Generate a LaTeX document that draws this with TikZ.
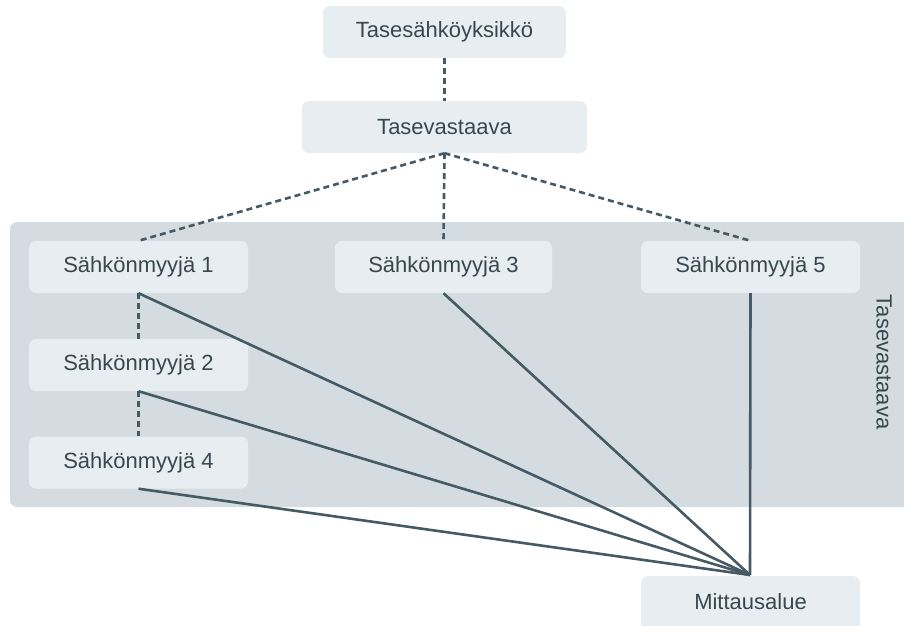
\documentclass[tikz,border=0pt]{standalone}
\usepackage{fontspec}
\setmainfont{Liberation Sans}
\definecolor{boxfill}{HTML}{E8EDF1}
\definecolor{groupfill}{HTML}{D5DCE1}
\definecolor{linecol}{HTML}{455A64}
\definecolor{textcol}{HTML}{37474F}
\begin{document}
\begin{tikzpicture}[x=1pt,y=-1pt,
  ent/.style={fill=boxfill,rounded corners=7pt,inner sep=0pt,text=textcol,
    font=\fontsize{22}{26}\selectfont},
  dashlink/.style={draw=linecol,line width=2.6pt,dash pattern=on 6pt off 4pt},
  solidlink/.style={draw=linecol,line width=2.6pt},
  grp/.style={fill=groupfill,rounded corners=7pt}]
\useasboundingbox (0,0) rectangle (904,625);
\clip (0,0) rectangle (904,625);
\path[grp] (10,222) rectangle (914,507);
\node[rotate=-90,text=textcol,font=\fontsize{22}{26}\selectfont] (glabel) at (884,362) {Tasevastaava};
\node[ent,minimum width=243pt,minimum height=52pt] (tse) at (444.5,32) {Tasesähköyksikkö};
\node[ent,minimum width=285pt,minimum height=52pt] (tv) at (444.5,127) {Tasevastaava};
\node[ent,minimum width=219pt,minimum height=52pt] (s1) at (138.5,267) {Sähkönmyyjä 1};
\node[ent,minimum width=219pt,minimum height=52pt] (s2) at (138.5,365) {Sähkönmyyjä 2};
\node[ent,minimum width=219pt,minimum height=52pt] (s4) at (138.5,462.5) {Sähkönmyyjä 4};
\node[ent,minimum width=217pt,minimum height=52pt] (s3) at (443.5,267) {Sähkönmyyjä 3};
\node[ent,minimum width=219pt,minimum height=52pt] (s5) at (750.5,267) {Sähkönmyyjä 5};
\node[ent,minimum width=219pt,minimum height=64pt] (m) at (750.5,608) {\raisebox{12pt}{Mittausalue}};
\coordinate (mt) at (750,575);
\draw[dashlink] (tse.south) -- (tv.north);
\draw[dashlink] (tv.south) -- (s1.north);
\draw[dashlink] (tv.south) -- (s3.north);
\draw[dashlink] (tv.south) -- (s5.north);
\draw[dashlink] (s1.south) -- (s2.north);
\draw[dashlink] (s2.south) -- (s4.north);
\draw[solidlink] (s1.south) -- (mt);
\draw[solidlink] (s2.south) -- (mt);
\draw[solidlink] (s4.south) -- (mt);
\draw[solidlink] (s3.south) -- (mt);
\draw[solidlink] (s5.south) -- (mt);
\end{tikzpicture}
\end{document}
